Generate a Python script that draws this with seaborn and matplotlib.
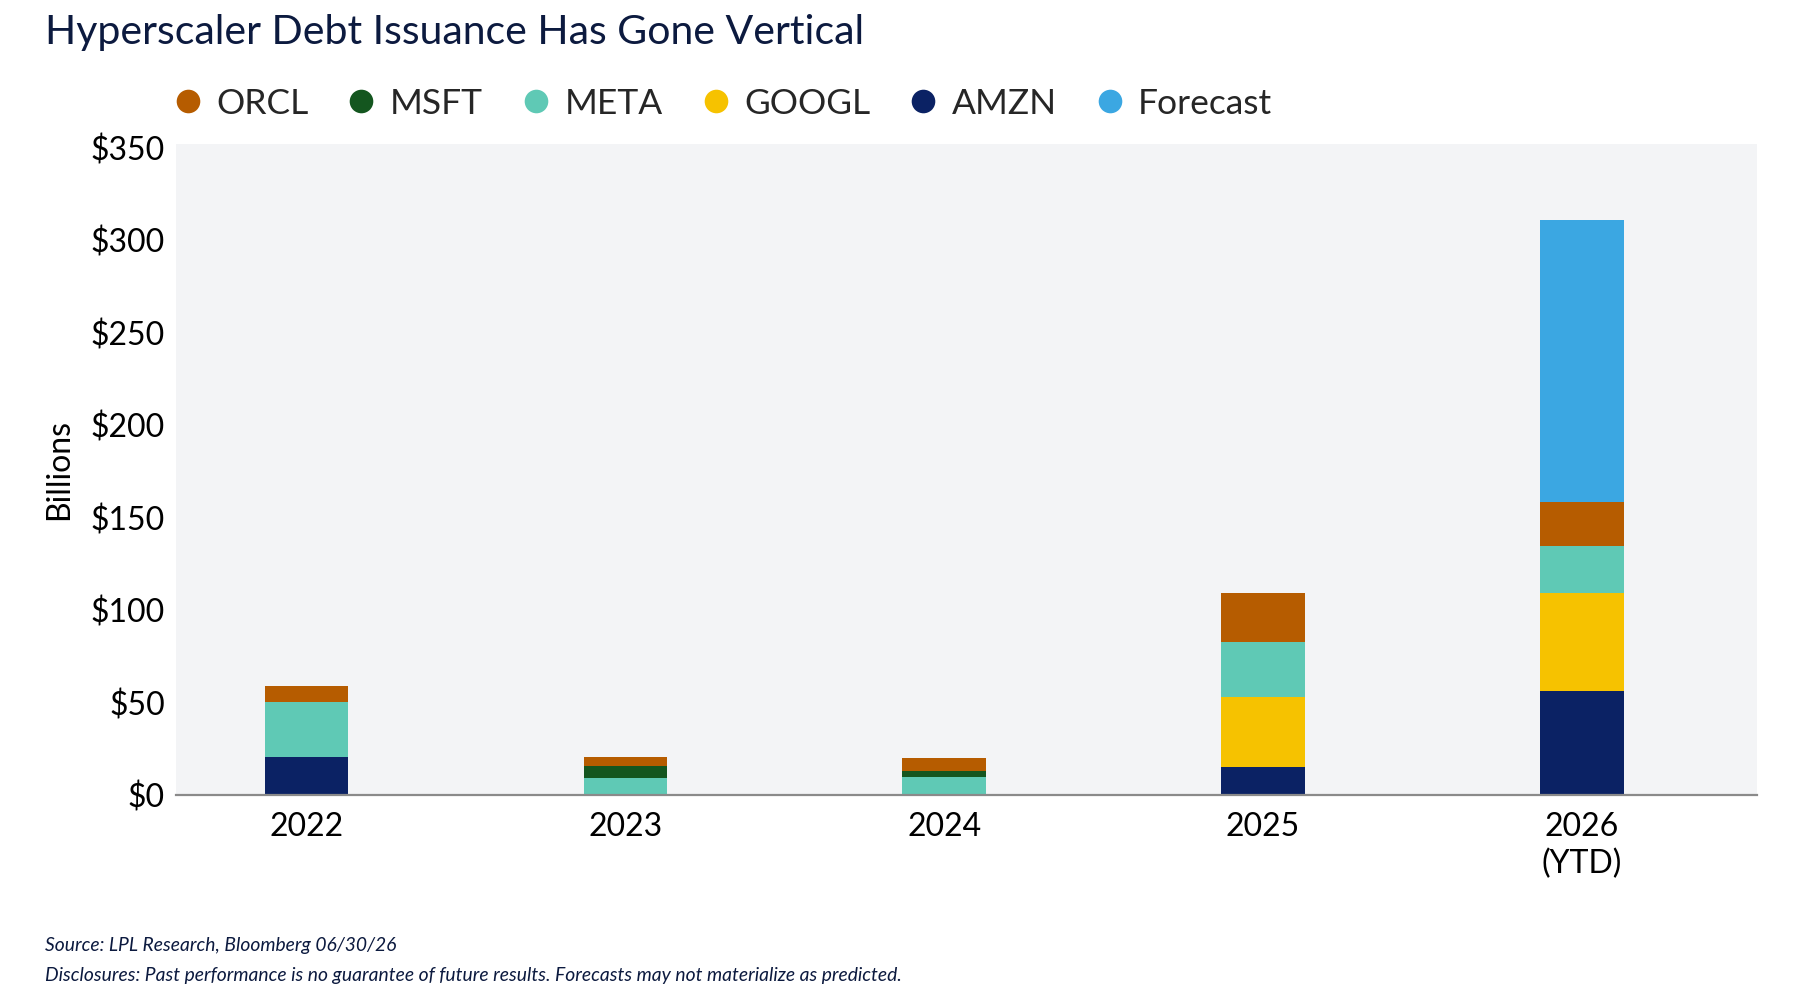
import pandas as pd
import matplotlib.pyplot as plt
import seaborn as sns
from matplotlib.lines import Line2D

# data (billions USD), stacked bottom -> top
years = ["2022", "2023", "2024", "2025", "2026\n(YTD)"]
amzn = [20.5, 0, 0, 15, 56.5]
googl = [0, 0, 0, 38, 52.5]
meta = [30, 9, 10, 29.5, 25.5]
msft = [0, 6.5, 3, 0, 0]
orcl = [8.5, 5, 7, 26.5, 24]
forecast = [0, 0, 0, 0, 152.5]

series = ["AMZN", "GOOGL", "META", "MSFT", "ORCL", "Forecast"]
colors = {
    "ORCL": "#B65C00",
    "MSFT": "#14561F",
    "META": "#5FC9B5",
    "GOOGL": "#F6C200",
    "AMZN": "#0B2264",
    "Forecast": "#3BA7E2",
}
legend_order = ["ORCL", "MSFT", "META", "GOOGL", "AMZN", "Forecast"]

navy = "#0C1A3F"


def setup_plot_style():
    sns.set_theme(style="white")
    plt.rcParams.update({
        'font.family': ['Lato', 'DejaVu Sans'],
        'axes.facecolor': '#F3F4F6',
        'figure.facecolor': 'white',
    })


def main():
    setup_plot_style()

    df = pd.DataFrame({"Year": years, "AMZN": amzn, "GOOGL": googl, "META": meta,
                       "MSFT": msft, "ORCL": orcl, "Forecast": forecast})
    cum = df[series].cumsum(axis=1)

    fig = plt.figure(figsize=(18.18, 10.06), dpi=100)
    ax = fig.add_axes([0.0968, 0.2097, 0.8697, 0.6473])

    # draw cumulative totals from top layer down so each segment shows
    for s in reversed(series):
        sns.barplot(x=df["Year"], y=cum[s], color=colors[s], width=0.262,
                    linewidth=0, saturation=1, ax=ax)

    ax.set_ylim(0, 352)
    ax.set_xlim(-0.41, 4.55)
    ax.set_yticks(range(0, 351, 50))
    ax.set_yticklabels([f"${v}" for v in range(0, 351, 50)])
    ax.tick_params(axis='both', labelsize=23, colors='black', length=0)
    ax.tick_params(axis='y', pad=8)
    ax.tick_params(axis='x', pad=12)
    for lbl in ax.get_xticklabels():
        lbl.set_linespacing(1.3)
    ax.set_xlabel("")
    ax.set_ylabel("Billions", fontsize=23, color='black', labelpad=12)

    for side in ['left', 'right', 'top']:
        ax.spines[side].set_visible(False)
    ax.spines['bottom'].set_color('#8A8A8A')
    ax.spines['bottom'].set_linewidth(1.6)

    fig.text(0.025, 0.968, "Hyperscaler Debt Issuance Has Gone Vertical",
             fontsize=29.5, color=navy, va='center', ha='left')

    handles = [Line2D([0], [0], marker='o', linestyle='', markersize=17,
                      markerfacecolor=colors[s], markeredgewidth=0) for s in legend_order]
    fig.legend(handles, legend_order, loc='center left', bbox_to_anchor=(0.076, 0.897),
               ncol=6, frameon=False, fontsize=25.5, handletextpad=0.3,
               columnspacing=1.0, handlelength=1.0)

    fig.text(0.025, 0.060, "Source: LPL Research, Bloomberg 06/30/26",
             fontsize=13.9, style='italic', color=navy, va='center')
    fig.text(0.025, 0.030, "Disclosures: Past performance is no guarantee of future results. "
             "Forecasts may not materialize as predicted.",
             fontsize=13.9, style='italic', color=navy, va='center')

    fig.savefig("out.png", dpi=100)


if __name__ == "__main__":
    main()
